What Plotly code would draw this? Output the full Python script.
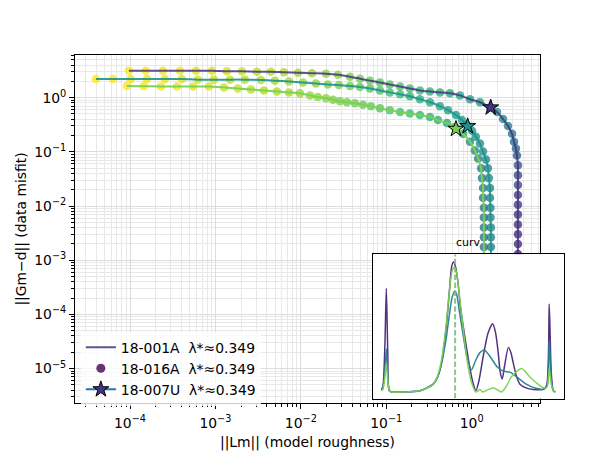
import plotly.graph_objects as go
import numpy as np

# ---------------- main L-curves (||Lm||, ||Gm-d||) ----------------
names = ["18-001A", "18-016A", "18-007U"]
lambda_star = [0.349, 0.349, 0.349]

a_x = [9.70e-5, 1.53e-4, 2.43e-4, 3.84e-4, 5.91e-4, 9.10e-4, 1.36e-3, 2.04e-3, 3.06e-3, 4.47e-3,
       6.34e-3, 9.25e-3, 1.35e-2, 1.97e-2, 2.72e-2, 3.76e-2, 4.92e-2, 6.44e-2, 8.43e-2, 0.110,
       0.145, 0.189, 0.248, 0.325, 0.426, 0.557, 0.730, 0.955, 1.25, 1.64,
       1.98, 2.33, 2.66, 2.97, 3.13, 3.30, 3.39,
       3.48, 3.48, 3.48, 3.48, 3.48, 3.48, 3.48, 3.48, 3.48, 3.48,
       3.52, 3.55, 3.57, 3.58, 3.58, 3.58, 3.58]
a_y = [3.14, 3.14, 3.14, 3.14, 3.14, 3.14, 3.07, 3.07, 3.01, 3.01,
       2.94, 2.88, 2.82, 2.77, 2.65, 2.44, 2.24, 2.06, 1.90, 1.75,
       1.60, 1.48, 1.36, 1.30, 1.25, 1.20, 1.10, 0.932, 0.822, 0.667,
       0.541, 0.403, 0.301, 0.215, 0.154, 0.115, 0.0857,
       0.0564, 0.0371, 0.0244, 0.0160, 0.0106, 6.95e-3, 4.57e-3, 3.01e-3, 1.98e-3, 1.30e-3,
       5e-4, 2e-4, 8e-5, 3e-5, 1.2e-5, 6e-6, 4.5e-6]
a_c = [1.0, 0.99, 0.98, 0.97, 0.96, 0.95, 0.93, 0.92, 0.90, 0.89,
       0.88, 0.86, 0.85, 0.83, 0.82, 0.80, 0.78, 0.77, 0.75, 0.74,
       0.72, 0.70, 0.68, 0.66, 0.64, 0.62, 0.60, 0.58, 0.56, 0.54,
       0.52, 0.49, 0.46, 0.42, 0.38, 0.34, 0.30,
       0.27, 0.24, 0.22, 0.20, 0.18, 0.16, 0.15, 0.14, 0.13, 0.12,
       0.10, 0.08, 0.06, 0.04, 0.03, 0.01, 0.0]

b_x = [3.98e-5, 6.30e-5, 1.02e-4, 1.58e-4, 2.56e-4, 4.05e-4, 6.24e-4, 9.60e-4, 1.48e-3, 2.21e-3,
       3.41e-3, 4.97e-3, 7.26e-3, 1.06e-2, 1.50e-2, 2.07e-2, 2.79e-2, 3.76e-2, 4.92e-2, 6.44e-2,
       8.43e-2, 0.110, 0.145, 0.189, 0.248, 0.325, 0.426, 0.528, 0.655, 0.769,
       0.881, 1.01, 1.12, 1.25, 1.36, 1.47, 1.55, 1.59, 1.64, 1.64,
       1.66, 1.66, 1.68, 1.68, 1.68,
       1.68, 1.68, 1.68, 1.68, 1.68, 1.68]
b_y = [2.20, 2.20, 2.20, 2.20, 2.20, 2.20, 2.15, 2.15, 2.15, 2.15,
       2.11, 2.06, 1.98, 1.90, 1.82, 1.75, 1.71, 1.64, 1.57, 1.48,
       1.36, 1.25, 1.15, 1.06, 0.932, 0.822, 0.695, 0.588, 0.477, 0.386,
       0.313, 0.244, 0.190, 0.142, 0.101, 0.0724, 0.0497, 0.0327, 0.0215, 0.0142,
       9.31e-3, 6.12e-3, 4.03e-3, 2.65e-3, 1.75e-3,
       1.0e-3, 5e-4, 2.5e-4, 1.2e-4, 6e-5, 3e-5]
b_c = [1.0, 0.99, 0.98, 0.97, 0.96, 0.95, 0.94, 0.93, 0.91, 0.90,
       0.88, 0.87, 0.86, 0.84, 0.83, 0.81, 0.80, 0.78, 0.76, 0.74,
       0.72, 0.70, 0.68, 0.66, 0.64, 0.62, 0.60, 0.58, 0.56, 0.55,
       0.54, 0.53, 0.52, 0.51, 0.50, 0.49, 0.48, 0.47, 0.47, 0.46,
       0.46, 0.45, 0.45, 0.44, 0.44,
       0.42, 0.38, 0.34, 0.30, 0.25, 0.20]

c_x = [9.18e-5, 1.45e-4, 2.30e-4, 3.54e-4, 5.45e-4, 8.39e-4, 1.26e-3, 1.83e-3, 2.60e-3, 3.70e-3,
       5.25e-3, 7.26e-3, 9.76e-3, 1.28e-2, 1.58e-2, 1.97e-2, 2.38e-2, 2.87e-2, 3.47e-2, 4.30e-2,
       5.33e-2, 6.62e-2, 8.43e-2, 0.110, 0.145, 0.189, 0.248, 0.325, 0.403, 0.514,
       0.637, 0.791, 0.955, 1.09, 1.19, 1.29, 1.32, 1.36, 1.36, 1.39,
       1.39, 1.39, 1.39, 1.39,
       1.39, 1.39, 1.39, 1.39, 1.39]
c_y = [1.64, 1.63, 1.60, 1.60, 1.60, 1.60, 1.54, 1.48, 1.42, 1.36,
       1.30, 1.25, 1.20, 1.10, 1.03, 0.971, 0.912, 0.857, 0.822, 0.788,
       0.740, 0.695, 0.639, 0.588, 0.541, 0.508, 0.477, 0.438, 0.386, 0.341,
       0.288, 0.215, 0.154, 0.106, 0.0755, 0.0497, 0.0327, 0.0215, 0.0142, 9.31e-3,
       6.12e-3, 4.03e-3, 2.65e-3, 1.75e-3,
       1.0e-3, 5e-4, 2.5e-4, 1.2e-4, 6e-5]
c_c = [1.0, 0.99, 0.98, 0.97, 0.96, 0.95, 0.93, 0.92, 0.90, 0.89,
       0.88, 0.87, 0.85, 0.84, 0.83, 0.82, 0.81, 0.80, 0.79, 0.78,
       0.77, 0.76, 0.74, 0.72, 0.70, 0.68, 0.66, 0.64, 0.62, 0.60,
       0.56, 0.53, 0.50, 0.48, 0.46, 0.44, 0.43, 0.42, 0.41, 0.40,
       0.39, 0.38, 0.37, 0.36,
       0.34, 0.30, 0.26, 0.22, 0.18]

star_x = [1.67, 0.898, 0.655]
star_y = [0.658, 0.297, 0.265]

# ---------------- inset: curvature vs log10(lambda) ----------------
ia_l = [-3.0, -2.95, -2.88, -2.83, -2.78, -2.73, -2.65, -2.2, -1.9, -1.67, -1.44, -1.21, -1.05, -0.92,
        -0.77, -0.66, -0.58, -0.52, -0.45, -0.36, -0.29, -0.17, -0.05, 0.055, 0.16, 0.26, 0.36,
        0.52, 0.68, 0.84, 0.94, 1.03, 1.10, 1.17, 1.25, 1.38, 1.47, 1.55, 1.66, 1.78, 2.01, 2.24,
        2.58, 2.70, 2.79, 2.86, 2.93, 3.0]
ia_k = [0.02, 0.04, 0.35, 0.79, 0.30, 0.01, 0.0, 0.0, 0.003, 0.01, 0.03, 0.06, 0.12, 0.23,
        0.48, 0.75, 0.95, 0.99, 0.96, 0.84, 0.68, 0.49, 0.32, 0.18, 0.07, 0.01, 0.08,
        0.28, 0.45, 0.52, 0.45, 0.30, 0.15, 0.10, 0.20, 0.34, 0.30, 0.22, 0.12, 0.06, 0.03, 0.02,
        0.02, 0.05, 0.67, 0.15, 0.01, 0.0]
ib_l = [-3.0, -2.95, -2.88, -2.83, -2.78, -2.73, -2.65, -2.2, -1.9, -1.67, -1.44, -1.21, -1.05, -0.92,
        -0.77, -0.66, -0.56, -0.47, -0.40, -0.30, -0.17, -0.05, 0.11, 0.25, 0.40, 0.55, 0.75, 1.0,
        1.2, 1.45, 1.7, 2.0, 2.3, 2.6, 2.72, 2.79, 2.86, 2.93, 3.0]
ib_k = [0.01, 0.03, 0.16, 0.33, 0.13, 0.01, 0.0, 0.0, 0.003, 0.01, 0.03, 0.06, 0.12, 0.22,
        0.40, 0.58, 0.72, 0.77, 0.74, 0.60, 0.42, 0.27, 0.17, 0.24, 0.30, 0.32, 0.27, 0.19,
        0.16, 0.15, 0.11, 0.06, 0.03, 0.02, 0.05, 0.39, 0.10, 0.01, 0.0]
ic_l = [-3.0, -2.95, -2.88, -2.83, -2.78, -2.73, -2.65, -2.2, -1.9, -1.67, -1.44, -1.21, -1.05, -0.92,
        -0.77, -0.66, -0.56, -0.48, -0.40, -0.30, -0.17, -0.05, 0.10, 0.26, 0.40, 0.50, 0.70, 0.88,
        1.05, 1.14, 1.3, 1.5, 1.84, 2.1, 2.4, 2.62, 2.72, 2.79, 2.86, 2.93, 3.0]
ic_k = [0.01, 0.02, 0.11, 0.22, 0.09, 0.01, 0.0, 0.0, 0.003, 0.01, 0.03, 0.06, 0.13, 0.25,
        0.50, 0.76, 0.92, 0.95, 0.90, 0.72, 0.47, 0.25, 0.08, 0.0, 0.02, 0.0, 0.02, 0.03,
        0.01, 0.0, 0.04, 0.12, 0.18, 0.12, 0.06, 0.03, 0.04, 0.18, 0.06, 0.01, 0.0]

line_cols = ["rgba(70,50,126,0.85)", "rgba(33,145,140,0.9)", "rgba(122,209,81,0.95)"]
star_cols = ["#46327e", "#21918c", "#7ad151"]
FONT = "DejaVu Sans, Verdana, sans-serif"

fig = go.Figure()
curves = [(a_x, a_y, a_c), (b_x, b_y, b_c), (c_x, c_y, c_c)]
for (xs, ys, cs) in curves:
    fig.add_trace(go.Scatter(x=xs, y=ys, mode="markers", showlegend=False, hoverinfo="skip",
                             marker=dict(size=8.5, color=cs, colorscale="Viridis", cmin=0, cmax=1,
                                         opacity=0.8, line=dict(width=0))))
for i, (xs, ys, cs) in enumerate(curves):
    fig.add_trace(go.Scatter(x=xs, y=ys, mode="lines", showlegend=False, hoverinfo="skip",
                             line=dict(color=line_cols[i], width=2, shape="spline", smoothing=0.6)))
for i in range(3):
    fig.add_trace(go.Scatter(x=[star_x[i]], y=[star_y[i]], mode="markers", showlegend=False,
                             marker=dict(symbol="star", size=12, color=star_cols[i],
                                         line=dict(color="black", width=1))))

# legend proxies
fig.add_trace(go.Scatter(x=[None], y=[None], mode="lines", name=names[0] + "\u00a0 λ*≈" + str(lambda_star[0]),
                         line=dict(color=line_cols[0], width=2)))
fig.add_trace(go.Scatter(x=[None], y=[None], mode="markers", name=names[1] + "\u00a0 λ*≈" + str(lambda_star[1]),
                         marker=dict(color="rgba(68,1,84,0.8)", size=9)))
fig.add_trace(go.Scatter(x=[None], y=[None], mode="lines+markers", name=names[2] + "\u00a0 λ*≈" + str(lambda_star[2]),
                         line=dict(color="#1f77b4", width=2),
                         marker=dict(symbol="star", size=12, color="#433685", line=dict(color="black", width=1))))

# inset
ins_cols = ["rgba(72,40,120,0.95)", "rgba(38,130,142,0.95)", "rgba(122,209,81,0.95)"]
for i, (ls, ks) in enumerate([(ia_l, ia_k), (ib_l, ib_k), (ic_l, ic_k)]):
    fig.add_trace(go.Scatter(x=ls, y=ks, mode="lines", xaxis="x2", yaxis="y2", showlegend=False,
                             line=dict(color=ins_cols[i], width=1.5, shape="spline", smoothing=0.7)))
ls_star = float(np.log10(lambda_star[2]))
fig.add_trace(go.Scatter(x=[ls_star, ls_star], y=[-0.05, 1.05], mode="lines", xaxis="x2", yaxis="y2",
                         showlegend=False, line=dict(color="rgba(120,185,125,0.85)", width=2, dash="5.5px,2.4px")))

major_x = [1e-4, 1e-3, 1e-2, 1e-1, 1e0]
major_x_txt = ["10<sup>−4</sup>", "10<sup>−3</sup>", "10<sup>−2</sup>", "10<sup>−1</sup>", "10<sup>0</sup>"]
major_y = [1e-5, 1e-4, 1e-3, 1e-2, 1e-1, 1e0]
major_y_txt = ["10<sup>−5</sup>", "10<sup>−4</sup>", "10<sup>−3</sup>", "10<sup>−2</sup>", "10<sup>−1</sup>", "10<sup>0</sup>"]
minor_vals = [k * 10.0 ** d for d in range(-6, 2) for k in range(2, 10)]

grid_major = "#dcdcdc"
grid_minor = "#e8e8e8"
common = dict(type="log", showline=True, linecolor="black", linewidth=1.1, mirror=True,
              ticks="outside", ticklen=4.9, tickwidth=1.1, tickcolor="black",
              showgrid=True, gridcolor=grid_major, gridwidth=0.8, zeroline=False,
              tickfont=dict(family=FONT, size=13.9, color="black"),
              minor=dict(tickmode="array", tickvals=minor_vals, ticks="outside", ticklen=2.8,
                         tickwidth=0.8, tickcolor="black", showgrid=True, gridcolor=grid_minor, gridwidth=0.8))

fig.update_layout(
    width=600, height=459,
    margin=dict(l=75, r=36, t=55, b=50.5),
    paper_bgcolor="white", plot_bgcolor="white",
    font=dict(family=FONT, size=13.9, color="black"),
    xaxis=dict(domain=[0, 465 / 489], range=[-4.644, 0.800], tickmode="array", tickvals=major_x,
               ticktext=major_x_txt, ticklabelstandoff=2,
               title=dict(text="||Lm|| (model roughness)", standoff=7,
                          font=dict(family=FONT, size=13.9)), **common),
    yaxis=dict(domain=[0, 1], range=[-5.636, 0.787], tickmode="array", tickvals=major_y,
               ticktext=major_y_txt, title=dict(text="||Gm−d|| (data misfit)", standoff=4,
                                                font=dict(family=FONT, size=13.9)), **common),
    xaxis2=dict(domain=[0.6088, 1.0], anchor="y2", range=[-3.3, 3.3], showticklabels=False,
                ticks="", showgrid=False, zeroline=False, showline=True, mirror=True,
                linecolor="black", linewidth=1.1),
    yaxis2=dict(domain=[0.0127, 0.4277], anchor="x2", range=[-0.05, 1.05], showticklabels=False,
                ticks="", showgrid=False, zeroline=False, showline=True, mirror=True,
                linecolor="black", linewidth=1.1),
    legend=dict(x=0.012, y=0.205, xanchor="left", yanchor="top", bgcolor="rgba(255,255,255,0.8)",
                borderwidth=0, font=dict(family=FONT, size=13.9), tracegroupgap=0, itemwidth=30),
    annotations=[dict(text="curv", xref="paper", yref="paper", x=(468 - 75) / 489,
                      y=(408.5 - 245) / 353.5, xanchor="center", yanchor="middle", showarrow=False,
                      font=dict(family=FONT, size=11, color="black"))],
)

fig.write_html("out.html")
